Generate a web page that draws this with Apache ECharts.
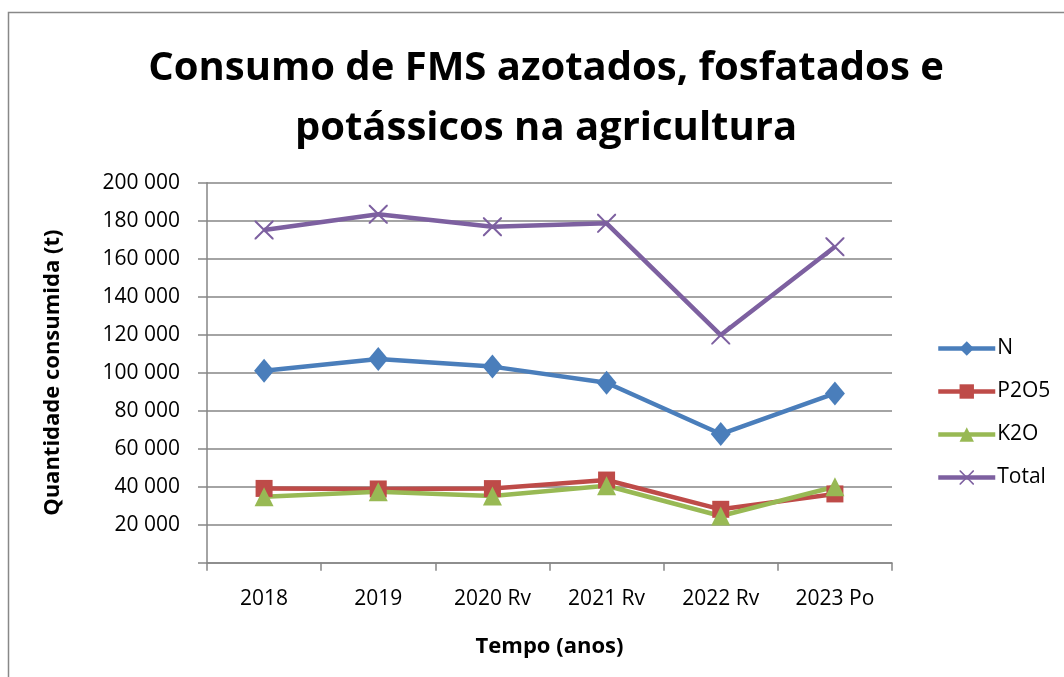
<!DOCTYPE html>
<html>
<head>
<meta charset="utf-8">
<script src="https://cdn.jsdelivr.net/npm/echarts@6/dist/echarts.min.js"></script>
<style>
html,body{margin:0;padding:0;background:#fff;}
#c{width:1064px;height:677px;}
</style>
</head>
<body>
<div id="c"></div>
<script>
const categories = ['2018', '2019', '2020 Rv', '2021 Rv', '2022 Rv', '2023 Po'];
const seriesN = [101000, 107200, 103200, 94700, 67700, 89100];
const seriesP2O5 = [39100, 38800, 39000, 43500, 28100, 36200];
const seriesK2O = [34700, 37400, 35100, 40500, 24600, 40000];
const seriesTotal = [175100, 183400, 176800, 178600, 119800, 166300];

const FONT = 'Open Sans';
const xPath = 'path://M0,0 L1.5,0 L10,8.5 L18.5,0 L20,0 L20,1.5 L11.5,10 L20,18.5 L20,20 L18.5,20 L10,11.5 L1.5,20 L0,20 L0,18.5 L8.5,10 L0,1.5 Z';

const chart = echarts.init(document.getElementById('c'), null, {renderer: 'canvas'});
const axisGray = '#868686';
function fmt(v){ if (v === 0) return ''; return String(v).replace(/\B(?=(\d{3})+(?!\d))/g, ' '); }

chart.setOption({
  backgroundColor: '#fff',
  animation: false,
  textStyle: {fontFamily: FONT},
  graphic: [{
    type: 'rect', shape: {x: 8.5, y: 12.5, width: 1100, height: 720},
    style: {fill: 'none', stroke: '#888', lineWidth: 1.5}, silent: true, z: -1
  }],
  title: {
    text: 'Consumo de FMS azotados, fosfatados e\npotássicos na agricultura',
    left: 541, top: 34, textAlign: 'center',
    textStyle: {fontFamily: FONT, fontWeight: 'bold', fontSize: 40, lineHeight: 60, color: '#000'}
  },
  legend: {
    orient: 'vertical', left: 931, top: 333, itemGap: 22, itemWidth: 57, itemHeight: 18,
    lineStyle: {width: 4.5},
    textStyle: {fontFamily: FONT, fontSize: 21, color: '#000', padding: [0,0,0,-3]},
    data: ['N', 'P2O5', 'K2O', 'Total']
  },
  grid: {left: 207, right: 172, top: 182.7, bottom: 114.3},
  xAxis: {
    type: 'category', data: categories, boundaryGap: true,
    name: 'Tempo (anos)', nameLocation: 'middle', nameGap: 73,
    nameTextStyle: {fontFamily: FONT, fontWeight: 'bold', fontSize: 22, color: '#000'},
    axisLine: {lineStyle: {color: axisGray, width: 1.5}},
    axisTick: {show: true, length: 8, lineStyle: {color: axisGray, width: 1.5}},
    axisLabel: {fontFamily: FONT, fontSize: 21, color: '#000', margin: 26}
  },
  yAxis: {
    type: 'value', min: 0, max: 200000, interval: 20000,
    name: 'Quantidade consumida (t)', nameLocation: 'middle', nameGap: 143, nameRotate: 90,
    nameTextStyle: {fontFamily: FONT, fontWeight: 'bold', fontSize: 22, color: '#000'},
    axisLine: {show: true, lineStyle: {color: axisGray, width: 1.5}},
    axisTick: {show: true, length: 9, lineStyle: {color: axisGray, width: 1.5}},
    splitLine: {lineStyle: {color: axisGray, width: 1.5}},
    axisLabel: {fontFamily: FONT, fontSize: 21, color: '#000', margin: 27, formatter: fmt}
  },
  series: [
    {name: 'N', type: 'line', data: seriesN, symbol: 'diamond', symbolSize: [20, 24],
     lineStyle: {width: 4.5, color: '#4A7EBB'}, itemStyle: {color: '#4A7EBB'}},
    {name: 'P2O5', type: 'line', data: seriesP2O5, symbol: 'rect', symbolSize: 17,
     lineStyle: {width: 4.5, color: '#BE4B48'}, itemStyle: {color: '#BE4B48'}},
    {name: 'K2O', type: 'line', data: seriesK2O, symbol: 'triangle', symbolSize: [19, 19],
     lineStyle: {width: 4.5, color: '#98B954'}, itemStyle: {color: '#98B954'}},
    {name: 'Total', type: 'line', data: seriesTotal, symbol: xPath, symbolSize: 19,
     lineStyle: {width: 4.5, color: '#7D60A0'}, itemStyle: {color: '#7D60A0'}}
  ]
});
</script>
</body>
</html>
